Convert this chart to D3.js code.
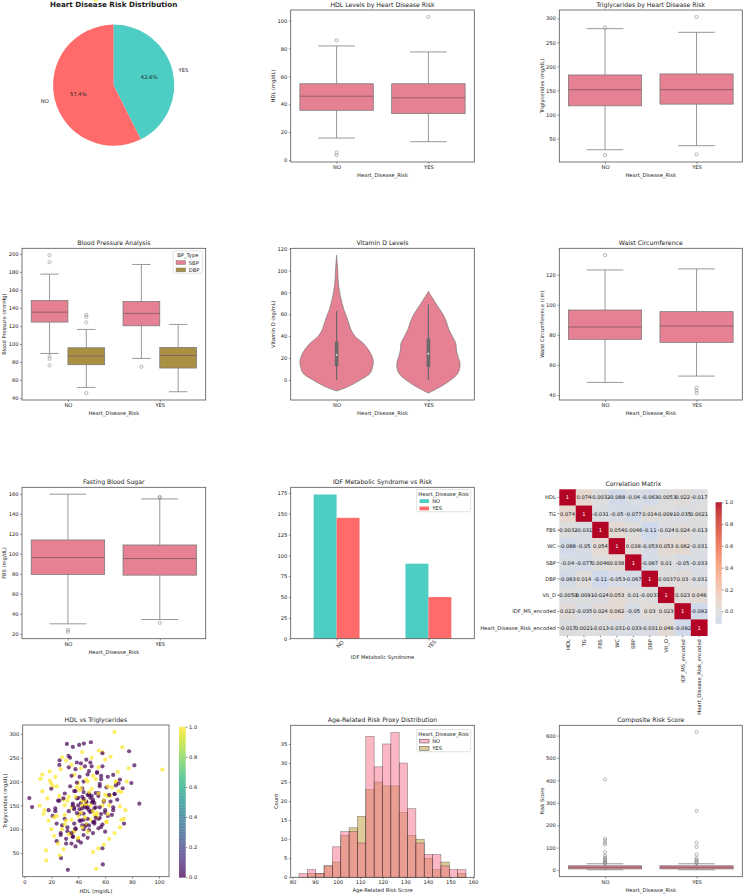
<!DOCTYPE html>
<html><head><meta charset="utf-8">
<script src="https://cdn.jsdelivr.net/npm/d3@7"></script>
<style>body{margin:0;background:#fff}svg{display:block}text{font-family:"DejaVu Sans",sans-serif;fill:#222}</style>
</head><body><svg id="c" width="745" height="895"></svg>
<script>
// ---------------- DATA ----------------
const riskLabels = ["NO", "YES"];
const riskShare = [57.4, 42.6];
const pieColors = ["#FF6B6B", "#4ECDC4"];

// box stats: [whiskerLow, Q1, median, Q3, whiskerHigh]
const hdlStats = [[15.8, 35.7, 45.8, 54.7, 81.8], [13.2, 33.3, 44.6, 54.7, 77.5]];
const hdlOutliers = [[85.9, 5.5, 3.6], [102.6]];
const tgStats = [[27, 118.2, 151.7, 182.3, 278.4], [35.4, 121.7, 151.7, 184.4, 270.8]];
const tgOutliers = [[281.2, 15.9], [302.8, 17.3]];
const sbpStats = [[89.5, 124.3, 135.3, 148.3, 177.5], [84, 120.2, 133.9, 147.2, 188.2]];
const sbpOutliers = [[198.5, 190.8, 86.6, 83.6, 76.2], [74.7]];
const dbpStats = [[51.8, 77, 86.6, 95.8, 116.1], [47, 73.3, 87.3, 96.2, 121.7]];
const dbpOutliers = [[132.4, 130.2, 123.9, 45.5], []];
const waistStats = [[48.4, 77, 85.2, 96.5, 123.1], [52.6, 75, 85.9, 95.4, 123.8]];
const waistOutliers = [[132.9], [44.9, 43.1, 41.3]];
const fbsStats = [[30, 79.4, 96.3, 113.9, 159.7], [34.3, 78.7, 95.3, 108.9, 155]];
const fbsOutliers = [[24, 22], [157, 156, 31]];
const compStats = [[1, 5, 12, 19, 28], [1, 5, 12, 19, 28]];
const compOutliers = [[404, 139, 131, 121, 114, 80, 65, 57, 50, 45, 40, 36, 33, 30], [615, 264, 122, 103, 69, 53, 46, 40, 35, 31]];

// violin: inner box stats and density profiles [value, relative half-width]
const vitdBox = [[0, 12.5, 23, 35, 63], [0, 12, 24, 38, 69]];
const vitdProfileNo = [[-10, 0], [-6, 32], [0, 64], [6, 91], [12, 98], [17, 100], [22, 96], [28, 86], [34, 71], [40, 50], [46, 39], [52, 33], [58, 27], [64, 20], [70, 15], [77, 10], [85, 6], [92, 4], [100, 3], [107, 1.5], [114, 0]];
const vitdProfileYes = [[-12, 0], [-6, 34], [0, 61], [6, 80], [12, 86], [17, 85], [22, 80], [28, 76], [33, 75], [40, 65], [46, 56], [52, 50], [58, 43], [64, 32], [70, 20], [75, 11], [78, 5], [81, 0]];

const idfCats = ["NO", "YES"];
const idfRiskNo = [173, 90];
const idfRiskYes = [145, 50];

const corrLabels = ["HDL", "TG", "FBS", "WC", "SBP", "DBP", "Vit_D", "IDF_MS_encoded", "Heart_Disease_Risk_encoded"];
const corrHDL = [1, 0.074, -0.0032, -0.088, -0.04, -0.063, -0.0053, 0.022, -0.017];
const corrTG = [0.074, 1, -0.031, -0.05, -0.077, 0.014, -0.0091, -0.035, 0.0021];
const corrFBS = [-0.0032, -0.031, 1, 0.054, 0.0046, -0.11, -0.024, 0.024, -0.013];
const corrWC = [-0.088, -0.05, 0.054, 1, 0.038, -0.053, 0.053, 0.062, -0.031];
const corrSBP = [-0.04, -0.077, 0.0046, 0.038, 1, -0.067, 0.01, -0.05, -0.033];
const corrDBP = [-0.063, 0.014, -0.11, -0.053, -0.067, 1, -0.0037, 0.03, -0.031];
const corrVitD = [-0.0053, -0.0091, -0.024, 0.053, 0.01, -0.0037, 1, 0.023, 0.046];
const corrIDF = [0.022, -0.035, 0.024, 0.062, -0.05, 0.03, 0.023, 1, -0.092];
const corrHDR = [-0.017, 0.0021, -0.013, -0.031, -0.033, -0.031, 0.046, -0.092, 1];

const histEdges = [82.9, 86.6, 90.3, 94.0, 97.7, 101.4, 105.1, 108.8, 112.5, 116.2, 119.9, 123.6, 127.3, 131.0, 134.7, 138.4, 142.1, 145.8, 149.5, 153.2, 156.9];
const histNo = [1, 2, 1, 3, 8, 12, 12, 9, 37, 29, 35, 38, 30, 18, 9, 6, 6, 3, 2, 2];
const histYes = [0, 1, 1, 3, 4, 11, 13, 16, 23, 25, 24, 24, 17, 11, 10, 5, 2, 4, 0, 1];

// scatter: HDL, TG, risk (0 = NO, 1 = YES)
const scatHDL = [3.7, 5.7, 32.3, 58.3, 85.4, 77.8, 81.7, 79.5, 31.6, 36, 40.7, 44.2, 49.4, 58, 32.8, 26.2, 27.2, 53.3, 66.9, 102.5, 72.8, 77.5, 69.4, 55.3, 28.1, 16, 16.3, 26.2, 11.9, 13.3, 18.8, 11.4, 14.3, 13.3,
  40, 45, 48, 50, 52, 38, 35, 42, 46, 55, 60, 62, 30, 25, 22, 20, 44, 47, 51, 53, 39, 36, 43, 57, 64, 66, 70, 33, 28, 24, 41, 45, 49, 56, 61, 37, 34, 48, 52, 59, 65, 68, 72, 18, 21, 29, 31, 42, 46, 50, 54, 58, 63, 38, 40, 44, 47, 35, 55, 60, 30, 26, 43, 51,
  41, 43, 46, 49, 51, 53, 44, 47, 39, 42, 45, 48, 50, 37, 40, 43, 46, 52, 54, 36, 38, 41, 44, 47, 49, 56, 33, 35, 39, 42, 45, 48, 51, 57, 59, 31, 34, 37, 40, 43, 46, 53, 55, 62, 27, 29, 32, 36, 58, 61, 67, 24, 23, 19, 71, 74, 76,
  35, 38, 42, 46, 50, 54, 57, 61, 63, 59, 56, 44, 40, 36, 33, 30, 28, 32, 36, 40, 44, 48, 52, 56, 60, 64, 67, 70, 66, 62, 48, 45, 39, 34, 30, 26, 23, 21, 24, 27, 31, 35, 38, 42, 47, 51, 55, 58, 62, 66, 69, 73, 71, 68, 53, 49, 46, 43, 41, 39, 47, 50, 53, 57, 55, 52, 48, 44, 41, 37,
  20, 23, 27, 31, 35, 24, 17, 15, 18, 20, 22, 25, 29, 33, 37, 43, 49, 54, 58, 62, 65, 68, 72, 75, 74, 71, 67, 63, 59, 55, 51, 46, 40, 45, 38, 42, 47, 51, 55, 60, 64, 58, 50, 43, 37, 30, 26, 32, 60, 53];
const scatTG = [165.5, 146.6, 15, 26.2, 153.6, 263.6, 234.2, 197, 279, 272.7, 276.9, 279.7, 282.5, 259.4, 253.8, 244.7, 39.5, 17.1, 304.2, 225, 272, 227.9, 220.2, 265, 251, 55.6, 34.6, 45, 205.5, 214.6, 221.6, 149.4, 132.6, 179.6,
  150, 160, 140, 170, 130, 180, 120, 155, 145, 175, 135, 190, 110, 160, 125, 185, 200, 95, 115, 205, 165, 85, 150, 105, 170, 140, 180, 230, 100, 75, 210, 125, 240, 195, 115, 145, 90, 175, 155, 160, 130, 200, 120, 140, 190, 165, 70, 135, 110, 185, 220, 60, 150, 100, 80, 120, 215, 145, 170, 95, 130, 235, 160,
  158, 142, 168, 152, 136, 162, 128, 133, 172, 188, 118, 148, 178, 138, 112, 196, 108, 158, 144, 126, 154, 102, 182, 164, 122, 150, 146, 168, 92, 198, 228, 106, 172, 138, 212, 158, 118, 250, 142, 82, 186, 204, 124, 176, 132, 88, 162, 104, 94, 232, 116, 174, 128, 138, 202, 148, 112,
  200, 212, 226, 238, 246, 232, 218, 205, 188, 172, 160, 190, 178, 166, 150, 138, 122, 108, 96, 84, 76, 88, 98, 112, 124, 140, 158, 174, 196, 214, 210, 222, 232, 240, 190, 175, 160, 144, 128, 112, 92, 80, 70, 64, 72, 82, 92, 102, 110, 128, 146, 162, 186, 204, 192, 176, 166, 156, 144, 132, 134, 146, 156, 146, 132, 122, 116, 108, 100, 118,
  180, 196, 210, 226, 244, 235, 190, 165, 140, 118, 100, 86, 70, 58, 90, 96, 104, 120, 134, 150, 170, 188, 198, 178, 140, 122, 104, 92, 80, 68, 60, 52, 110, 128, 150, 168, 186, 200, 212, 230, 246, 252, 262, 250, 262, 214, 150, 170, 160, 172];
const scatRisk = [0, 0, 0, 0, 0, 0, 0, 0, 0, 0, 0, 0, 0, 0, 0, 0, 0, 1, 1, 1, 1, 1, 1, 1, 1, 1, 1, 1, 1, 1, 1, 1, 1, 1,
  0, 1, 0, 0, 1, 0, 1, 0, 0, 1, 0, 1, 1, 0, 1, 0, 0, 1, 0, 1, 0, 0, 1, 0, 1, 0, 1, 0, 1, 0, 0, 1, 0, 0, 1, 0, 1, 0, 0, 1, 0, 1, 1, 0, 1, 0, 0, 1, 0, 1, 0, 0, 1, 0, 1, 0, 0, 1, 0, 0, 1, 0, 1, 0,
  0, 0, 1, 0, 0, 1, 0, 0, 1, 0, 0, 1, 0, 0, 1, 0, 0, 0, 1, 0, 0, 1, 0, 0, 1, 0, 1, 0, 0, 1, 0, 0, 1, 0, 0, 1, 0, 0, 1, 0, 1, 0, 0, 1, 0, 1, 0, 1, 0, 1, 0, 1, 0, 1, 1, 0, 1,
  0, 0, 0, 0, 0, 0, 0, 0, 0, 0, 0, 0, 0, 0, 0, 0, 0, 0, 0, 0, 0, 0, 0, 0, 0, 0, 0, 0, 0, 0, 0, 0, 0, 0, 0, 0, 0, 0, 0, 0, 0, 0, 0, 0, 0, 0, 0, 0, 0, 0, 0, 0, 0, 0, 0, 0, 0, 0, 0, 0, 0, 0, 0, 0, 0, 0, 0, 0, 0, 0,
  1, 1, 1, 1, 1, 1, 1, 1, 1, 1, 1, 1, 1, 1, 1, 1, 1, 1, 1, 1, 1, 1, 1, 1, 1, 1, 1, 1, 1, 1, 1, 1, 1, 1, 1, 1, 1, 1, 1, 1, 1, 1, 1, 1, 1, 1, 1, 1, 1, 1];

// tick values
const hdlTicks = [0, 20, 40, 60, 80, 100];
const tgTicks = [50, 100, 150, 200, 250, 300];
const bpTicks = [40, 60, 80, 100, 120, 140, 160, 180, 200];
const vitdTicks = [0, 20, 40, 60, 80, 100, 120];
const waistTicks = [40, 60, 80, 100, 120];
const fbsTicks = [20, 40, 60, 80, 100, 120, 140, 160];
const idfTicks = [0, 25, 50, 75, 100, 125, 150, 175];
const compTicks = [0, 100, 200, 300, 400, 500, 600];
const histXTicks = [80, 90, 100, 110, 120, 130, 140, 150, 160];
const histYTicks = [0, 5, 10, 15, 20, 25, 30, 35];
const scatXTicks = [0, 20, 40, 60, 80, 100];
const scatYTicks = [50, 100, 150, 200, 250, 300];
const cbTicks = [0, 0.2, 0.4, 0.6, 0.8, 1.0];

// ---------------- STYLE / HELPERS ----------------
const BOX = "#e68193", GOLD = "#aa9043", LC = "#777", FS = 5.2;
const svg = d3.select("#c");

function panel(x0, y0, x1, y1) { return { g: svg.append("g"), x0, y0, x1, y1, w: x1 - x0, h: y1 - y0 }; }
function frame(p) {
  p.g.append("rect").attr("x", p.x0).attr("y", p.y0).attr("width", p.w).attr("height", p.h)
    .attr("fill", "none").attr("stroke", "#555").attr("stroke-width", 0.8);
}
function title(p, t, opts = {}) {
  p.g.append("text").attr("x", (p.x0 + p.x1) / 2).attr("y", p.y0 - (opts.dy || 5.4))
    .attr("text-anchor", "middle").attr("dominant-baseline", "central")
    .attr("font-size", opts.fs || 6.2).attr("font-weight", opts.bold ? "bold" : "normal").text(t);
}
function styleAxis(ga) {
  ga.attr("font-size", FS).attr("font-family", "DejaVu Sans");
  ga.select(".domain").remove();
  ga.selectAll("line").attr("stroke", "#444").attr("stroke-width", 0.6);
  ga.selectAll("text").attr("fill", "#222");
}
function yAxis(p, y, ticks, fmt) {
  const a = d3.axisLeft(y).tickValues(ticks).tickSize(1.8).tickPadding(1.6);
  a.tickFormat(fmt || d3.format("d"));
  styleAxis(p.g.append("g").attr("transform", `translate(${p.x0},0)`).call(a));
}
function xAxis(p, x, ticks, fmt) {
  const a = d3.axisBottom(x).tickSize(1.8).tickPadding(1.4);
  if (ticks) a.tickValues(ticks);
  if (fmt) a.tickFormat(fmt);
  const ga = p.g.append("g").attr("transform", `translate(0,${p.y1})`).call(a);
  styleAxis(ga);
  return ga;
}
function yLabel(p, t, off = 17.8) {
  p.g.append("text").attr("transform", `translate(${p.x0 - off},${(p.y0 + p.y1) / 2}) rotate(-90)`)
    .attr("text-anchor", "middle").attr("dominant-baseline", "central").attr("font-size", FS).text(t);
}
function xLabel(p, t, off = 12.8) {
  p.g.append("text").attr("x", (p.x0 + p.x1) / 2).attr("y", p.y1 + off)
    .attr("text-anchor", "middle").attr("dominant-baseline", "central").attr("font-size", FS).text(t);
}
function padDomain(lo, hi) { const m = (hi - lo) * 0.05; return [lo - m, hi + m]; }
function boxDomain(statsArr, outArr) {
  const vals = [];
  statsArr.forEach(s => s.forEach(d => d.forEach(v => vals.push(v))));
  outArr.forEach(o => o.forEach(d => d.forEach(v => vals.push(v))));
  return padDomain(d3.min(vals), d3.max(vals));
}
function drawBox(g, y, cx, w, s, outs, color) {
  const [lo, q1, med, q3, hi] = s;
  const lw = 0.75;
  g.append("line").attr("x1", cx).attr("x2", cx).attr("y1", y(lo)).attr("y2", y(q1)).attr("stroke", LC).attr("stroke-width", lw);
  g.append("line").attr("x1", cx).attr("x2", cx).attr("y1", y(q3)).attr("y2", y(hi)).attr("stroke", LC).attr("stroke-width", lw);
  [lo, hi].forEach(v => g.append("line").attr("x1", cx - w / 4).attr("x2", cx + w / 4).attr("y1", y(v)).attr("y2", y(v)).attr("stroke", LC).attr("stroke-width", lw));
  g.append("rect").attr("x", cx - w / 2).attr("y", y(q3)).attr("width", w).attr("height", y(q1) - y(q3))
    .attr("fill", color).attr("stroke", LC).attr("stroke-width", lw);
  g.append("line").attr("x1", cx - w / 2).attr("x2", cx + w / 2).attr("y1", y(med)).attr("y2", y(med)).attr("stroke", "#8a5c66").attr("stroke-width", 0.9);
  outs.forEach(v => g.append("circle").attr("cx", cx).attr("cy", y(v)).attr("r", 1.6).attr("fill", "none").attr("stroke", "#888").attr("stroke-width", 0.6));
}
function simpleBoxPanel(rect, t, ylab, stats, outs, ticks) {
  const p = panel(...rect);
  const x = d3.scaleBand().domain(riskLabels).range([p.x0, p.x1]).padding(0);
  const y = d3.scaleLinear().domain(boxDomain([stats], [outs])).range([p.y1, p.y0]);
  riskLabels.forEach((c, i) => drawBox(p.g, y, x(c) + x.bandwidth() / 2, x.bandwidth() * 0.8, stats[i], outs[i], BOX));
  frame(p);
  yAxis(p, y, ticks);
  xAxis(p, d3.scalePoint().domain(riskLabels).range([p.x0, p.x1]).padding(0.5));
  title(p, t); yLabel(p, ylab); xLabel(p, "Heart_Disease_Risk");
  return p;
}
function legend(g, x, y, w, ttl, items) {
  const h = 7.6 + items.length * 7.3;
  g.append("rect").attr("x", x).attr("y", y).attr("width", w).attr("height", h).attr("rx", 1)
    .attr("fill", "#fff").attr("fill-opacity", 0.85).attr("stroke", "#d0d0d0").attr("stroke-width", 0.6);
  g.append("text").attr("x", x + w / 2).attr("y", y + 4.3).attr("text-anchor", "middle").attr("dominant-baseline", "central").attr("font-size", FS).text(ttl);
  items.forEach((it, i) => {
    const yy = y + 11.6 + i * 7.3;
    g.append("rect").attr("x", x + 2.8).attr("y", yy - 1.9).attr("width", 9.5).attr("height", 3.8)
      .attr("fill", it.color).attr("fill-opacity", it.op || 1).attr("stroke", it.stroke || "none").attr("stroke-width", 0.5);
    g.append("text").attr("x", x + 15.5).attr("y", yy).attr("dominant-baseline", "central").attr("font-size", FS).text(it.label);
  });
}

// ---------------- 1. PIE ----------------
(function () {
  const cx = 113.7, cy = 85.2, r = 60.6;
  const g = svg.append("g").attr("transform", `translate(${cx},${cy})`);
  const pie = d3.pie().sort(null).startAngle(0).endAngle(-2 * Math.PI);
  const arcs = pie(riskShare);
  const arc = d3.arc().innerRadius(0).outerRadius(r);
  g.selectAll("path").data(arcs).join("path").attr("d", arc).attr("fill", (d, i) => pieColors[i]);
  arcs.forEach((a, i) => {
    const m = (a.startAngle + a.endAngle) / 2, sx = Math.sin(m), sy = -Math.cos(m);
    g.append("text").attr("x", sx * r * 1.1).attr("y", sy * r * 1.1).attr("text-anchor", sx < 0 ? "end" : "start")
      .attr("dominant-baseline", "central").attr("font-size", FS).text(riskLabels[i]);
    g.append("text").attr("x", sx * r * 0.6).attr("y", sy * r * 0.6).attr("text-anchor", "middle")
      .attr("dominant-baseline", "central").attr("font-size", FS).text(riskShare[i].toFixed(1) + "%");
  });
  svg.append("text").attr("x", cx).attr("y", 4.6).attr("text-anchor", "middle").attr("dominant-baseline", "central")
    .attr("font-size", 7.2).attr("font-weight", "bold").text("Heart Disease Risk Distribution");
})();

// ---------------- 2,3 HDL / TG ----------------
simpleBoxPanel([290.7, 10, 474.3, 162], "HDL Levels by Heart Disease Risk", "HDL (mg/dL)", hdlStats, hdlOutliers, hdlTicks);
simpleBoxPanel([559.3, 10, 742.3, 162], "Triglycerides by Heart Disease Risk", "Triglycerides (mg/dL)", tgStats, tgOutliers, tgTicks);

// ---------------- 4 BP ----------------
(function () {
  const p = panel(22, 248.3, 205.7, 400);
  const x = d3.scaleBand().domain(riskLabels).range([p.x0, p.x1]);
  const y = d3.scaleLinear().domain(boxDomain([sbpStats, dbpStats], [sbpOutliers, dbpOutliers])).range([p.y1, p.y0]);
  const bw = x.bandwidth();
  riskLabels.forEach((c, i) => {
    const cx = x(c) + bw / 2;
    drawBox(p.g, y, cx - bw * 0.2, bw * 0.4, sbpStats[i], sbpOutliers[i], BOX);
    drawBox(p.g, y, cx + bw * 0.2, bw * 0.4, dbpStats[i], dbpOutliers[i], GOLD);
  });
  frame(p);
  yAxis(p, y, bpTicks);
  xAxis(p, d3.scalePoint().domain(riskLabels).range([p.x0, p.x1]).padding(0.5));
  title(p, "Blood Pressure Analysis"); yLabel(p, "Blood Pressure (mmHg)"); xLabel(p, "Heart_Disease_Risk");
  legend(p.g, 173.3, 251, 29, "BP_Type", [{ label: "SBP", color: BOX, stroke: LC }, { label: "DBP", color: GOLD, stroke: LC }]);
})();

// ---------------- 5 Vitamin D violin ----------------
(function () {
  const p = panel(290.7, 248.3, 474.3, 400);
  const x = d3.scaleBand().domain(riskLabels).range([p.x0, p.x1]);
  const allV = vitdProfileNo.concat(vitdProfileYes).map(d => d[0]);
  const y = d3.scaleLinear().domain(padDomain(d3.min(allV), d3.max(allV))).range([p.y1, p.y0]);
  const bw = x.bandwidth();
  [vitdProfileNo, vitdProfileYes].forEach((prof, i) => {
    const cx = x(riskLabels[i]) + bw / 2;
    const k = bw * 0.4 / 100;
    const area = d3.area().y(d => y(d[0])).x0(d => cx - d[1] * k).x1(d => cx + d[1] * k).curve(d3.curveCatmullRom.alpha(0.5));
    p.g.append("path").attr("d", area(prof)).attr("fill", BOX).attr("stroke", "#777").attr("stroke-width", 0.7);
    const s = vitdBox[i];
    p.g.append("line").attr("x1", cx).attr("x2", cx).attr("y1", y(s[0])).attr("y2", y(s[4])).attr("stroke", "#6a6a6a").attr("stroke-width", 1.2);
    p.g.append("line").attr("x1", cx).attr("x2", cx).attr("y1", y(s[1])).attr("y2", y(s[3])).attr("stroke", "#6a6a6a").attr("stroke-width", 3.6);
    p.g.append("circle").attr("cx", cx).attr("cy", y(s[2])).attr("r", 0.9).attr("fill", "#fff");
  });
  frame(p);
  yAxis(p, y, vitdTicks);
  xAxis(p, d3.scalePoint().domain(riskLabels).range([p.x0, p.x1]).padding(0.5));
  title(p, "Vitamin D Levels"); yLabel(p, "Vitamin D (ng/mL)"); xLabel(p, "Heart_Disease_Risk");
})();

// ---------------- 6,7 Waist / FBS ----------------
simpleBoxPanel([559.3, 248.3, 742.3, 400], "Waist Circumference", "Waist Circumference (cm)", waistStats, waistOutliers, waistTicks);
simpleBoxPanel([22, 487.3, 205.7, 638.7], "Fasting Blood Sugar", "FBS (mg/dL)", fbsStats, fbsOutliers, fbsTicks);

// ---------------- 8 IDF bar ----------------
(function () {
  const p = panel(290.7, 487.3, 474.3, 638.7);
  const x = d3.scaleBand().domain(idfCats).range([p.x0, p.x1]);
  const maxV = d3.max(idfRiskNo.concat(idfRiskYes));
  const y = d3.scaleLinear().domain([0, maxV * 1.05]).range([p.y1, p.y0]);
  const bw = x.bandwidth();
  idfCats.forEach((c, i) => {
    const cx = x(c) + bw / 2;
    p.g.append("rect").attr("x", cx - bw * 0.25).attr("width", bw * 0.25).attr("y", y(idfRiskNo[i])).attr("height", y(0) - y(idfRiskNo[i])).attr("fill", "#4ECDC4");
    p.g.append("rect").attr("x", cx).attr("width", bw * 0.25).attr("y", y(idfRiskYes[i])).attr("height", y(0) - y(idfRiskYes[i])).attr("fill", "#FF6B6B");
  });
  frame(p);
  yAxis(p, y, idfTicks);
  const ga = xAxis(p, d3.scalePoint().domain(idfCats).range([p.x0, p.x1]).padding(0.5));
  ga.selectAll("text").attr("transform", "translate(0,2.6) rotate(-45)").attr("text-anchor", "middle").attr("dy", "0.35em").attr("y", 4.2);
  title(p, "IDF Metabolic Syndrome vs Risk"); xLabel(p, "IDF Metabolic Syndrome", 18.3);
  legend(p.g, 416.7, 489.5, 54, "Heart_Disease_Risk", [{ label: "NO", color: "#4ECDC4" }, { label: "YES", color: "#FF6B6B" }]);
})();

// ---------------- 9 Correlation heatmap ----------------
(function () {
  const p = panel(559.3, 489.3, 707.3, 635.7);
  const M = [corrHDL, corrTG, corrFBS, corrWC, corrSBP, corrDBP, corrVitD, corrIDF, corrHDR];
  const cw = [[59,76,192],[68,90,204],[77,104,215],[87,117,225],[98,130,234],[108,142,241],[119,154,247],[130,165,251],[141,176,254],[152,185,255],[163,194,255],[174,201,253],[184,208,249],[194,213,244],[204,217,238],[213,219,230],[221,221,221],[229,216,209],[236,211,197],[241,204,185],[245,196,173],[247,187,160],[247,177,148],[247,166,135],[244,154,123],[241,141,111],[236,127,99],[229,112,88],[222,96,77],[213,80,66],[203,62,56],[192,40,47],[180,4,38]].map(c => d3.rgb(...c));
  const cmap = d3.scaleLinear().domain(d3.range(cw.length).map(i => -1 + 2 * i / (cw.length - 1))).range(cw).interpolate(d3.interpolateRgb).clamp(true);
  const x = d3.scaleBand().domain(corrLabels).range([p.x0, p.x1]);
  const y = d3.scaleBand().domain(corrLabels).range([p.y0, p.y1]);
  M.forEach((row, i) => row.forEach((v, j) => {
    p.g.append("rect").attr("x", x(corrLabels[j])).attr("y", y(corrLabels[i])).attr("width", x.bandwidth() + 0.3).attr("height", y.bandwidth() + 0.3).attr("fill", cmap(v));
  }));
  M.forEach((row, i) => row.forEach((v, j) => {
    p.g.append("text").attr("x", x(corrLabels[j]) + x.bandwidth() / 2).attr("y", y(corrLabels[i]) + y.bandwidth() / 2)
      .attr("text-anchor", "middle").attr("dominant-baseline", "central").attr("font-size", FS)
      .style("fill", v > 0.6 ? "#fff" : "#111").text(String(+v.toPrecision(2)));
  }));
  corrLabels.forEach(l => {
    const yy = y(l) + y.bandwidth() / 2, xx = x(l) + x.bandwidth() / 2;
    p.g.append("line").attr("x1", p.x0 - 1.8).attr("x2", p.x0).attr("y1", yy).attr("y2", yy).attr("stroke", "#444").attr("stroke-width", 0.6);
    p.g.append("text").attr("x", p.x0 - 3.4).attr("y", yy).attr("text-anchor", "end").attr("dominant-baseline", "central").attr("font-size", FS).text(l);
    p.g.append("line").attr("x1", xx).attr("x2", xx).attr("y1", p.y1).attr("y2", p.y1 + 1.8).attr("stroke", "#444").attr("stroke-width", 0.6);
    p.g.append("text").attr("transform", `translate(${xx},${p.y1 + 3.4}) rotate(-90)`).attr("text-anchor", "end").attr("dominant-baseline", "central").attr("font-size", FS).text(l);
  });
  title(p, "Correlation Matrix");
  // colorbar
  const vmin = d3.min(M.flat()), vmax = d3.max(M.flat());
  const cb = { x0: 715.7, x1: 721.7, y0: 502.3, y1: 623.3 };
  const cy = d3.scaleLinear().domain([vmin, vmax]).range([cb.y1, cb.y0]);
  const N = 120;
  for (let k = 0; k < N; k++) {
    const v0 = vmin + (vmax - vmin) * k / N, v1 = vmin + (vmax - vmin) * (k + 1) / N;
    p.g.append("rect").attr("x", cb.x0).attr("width", cb.x1 - cb.x0).attr("y", cy(v1)).attr("height", cy(v0) - cy(v1) + 0.4).attr("fill", cmap((v0 + v1) / 2));
  }
  const a = d3.axisRight(cy).tickValues(cbTicks.filter(t => t >= vmin && t <= vmax)).tickSize(1.8).tickPadding(1.6).tickFormat(d3.format(".1f"));
  styleAxis(p.g.append("g").attr("transform", `translate(${cb.x1},0)`).call(a));
})();

// ---------------- 10 Scatter ----------------
(function () {
  const p = panel(22.7, 725, 169, 876.7);
  const x = d3.scaleLinear().domain(padDomain(d3.min(scatHDL), d3.max(scatHDL))).range([p.x0, p.x1]);
  const y = d3.scaleLinear().domain(padDomain(d3.min(scatTG), d3.max(scatTG))).range([p.y1, p.y0]);
  const col = d3.scaleSequential(d3.interpolateViridis).domain([0, 1]);
  // interleave draw order so neither class sits entirely on top
  const order = d3.range(scatHDL.length).sort((a, b) => ((a * 37) % 101) - ((b * 37) % 101));
  order.forEach(i => p.g.append("circle").attr("cx", x(scatHDL[i])).attr("cy", y(scatTG[i])).attr("r", 2.1).attr("fill", col(scatRisk[i])).attr("fill-opacity", 0.7));
  frame(p);
  yAxis(p, y, scatYTicks);
  xAxis(p, x, scatXTicks, d3.format("d"));
  title(p, "HDL vs Triglycerides"); yLabel(p, "Triglycerides (mg/dL)"); xLabel(p, "HDL (mg/dL)", 14);
  const cb = { x0: 179, x1: 185.7, y0: 726.7, y1: 877.3 };
  const cy = d3.scaleLinear().domain([0, 1]).range([cb.y1, cb.y0]);
  const N = 100;
  for (let k = 0; k < N; k++) {
    p.g.append("rect").attr("x", cb.x0).attr("width", cb.x1 - cb.x0).attr("y", cy((k + 1) / N)).attr("height", cy(k / N) - cy((k + 1) / N) + 0.4)
      .attr("fill", col((k + 0.5) / N)).attr("fill-opacity", 0.7);
  }
  const a = d3.axisRight(cy).tickValues(cbTicks).tickSize(1.8).tickPadding(1.6).tickFormat(d3.format(".1f"));
  styleAxis(p.g.append("g").attr("transform", `translate(${cb.x1},0)`).call(a));
})();

// ---------------- 11 Histogram ----------------
(function () {
  const p = panel(290.7, 725.3, 474.3, 877.3);
  const x = d3.scaleLinear().domain(padDomain(d3.min(histEdges), d3.max(histEdges))).range([p.x0, p.x1]);
  const y = d3.scaleLinear().domain([0, d3.max(histNo.concat(histYes)) * 1.05]).range([p.y1, p.y0]);
  [[histYes, "#bb9832"], [histNo, "#f77189"]].forEach(([arr, c]) => {
    arr.forEach((v, i) => {
      if (v <= 0) return;
      p.g.append("rect").attr("x", x(histEdges[i])).attr("width", x(histEdges[i + 1]) - x(histEdges[i])).attr("y", y(v)).attr("height", y(0) - y(v))
        .attr("fill", c).attr("fill-opacity", 0.5).attr("stroke", "#222").attr("stroke-opacity", 0.55).attr("stroke-width", 0.55);
    });
  });
  frame(p);
  yAxis(p, y, histYTicks);
  xAxis(p, x, histXTicks, d3.format("d"));
  title(p, "Age-Related Risk Proxy Distribution"); yLabel(p, "Count", 14.7); xLabel(p, "Age-Related Risk Score", 13);
  legend(p.g, 416.7, 729.5, 54, "Heart_Disease_Risk", [{ label: "NO", color: "#f77189", op: 0.5, stroke: "#444" }, { label: "YES", color: "#bb9832", op: 0.5, stroke: "#444" }]);
})();

// ---------------- 12 Composite ----------------
(function () {
  const p = panel(559.3, 725.3, 742.3, 876.7);
  const x = d3.scaleBand().domain(riskLabels).range([p.x0, p.x1]);
  const y = d3.scaleLinear().domain(boxDomain([compStats], [compOutliers])).range([p.y1, p.y0]);
  riskLabels.forEach((c, i) => drawBox(p.g, y, x(c) + x.bandwidth() / 2, x.bandwidth() * 0.8, compStats[i], compOutliers[i], BOX));
  frame(p);
  yAxis(p, y, compTicks);
  xAxis(p, d3.scalePoint().domain(riskLabels).range([p.x0, p.x1]).padding(0.5));
  title(p, "Composite Risk Score"); yLabel(p, "Risk Score"); xLabel(p, "Heart_Disease_Risk", 13);
})();
</script></body></html>
